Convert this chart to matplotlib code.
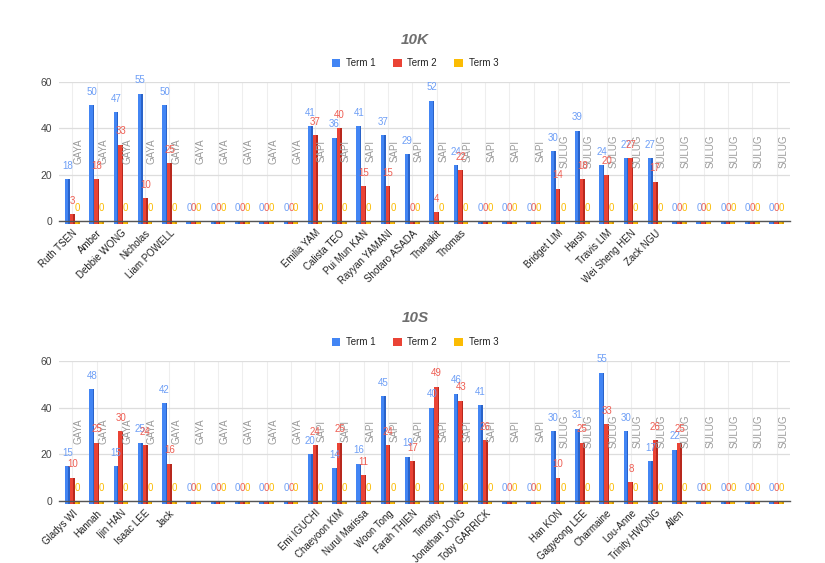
import matplotlib.pyplot as plt
import numpy as np

plt.rcParams['font.family'] = ['Liberation Sans', 'DejaVu Sans']

# ---- data: class 10K ----
k_names = ['Ruth TSEN', 'Amber', 'Debbie WONG', 'Nicholas', 'Liam POWELL', '', '', '', '', '',
           'Emilia YAM', 'Calista TEO', 'Pui Mun KAN', 'Rayyan YAMANI', 'Shotaro ASADA',
           'Thanakit', 'Thomas', '', '', '',
           'Bridget LIM', 'Harsh', 'Travis LIM', 'Wei Sheng HEN', 'Zack NGU', '', '', '', '', '']
k_house = ['GAYA'] * 10 + ['SAPI'] * 10 + ['SULUG'] * 10
k_term1 = [18, 50, 47, 55, 50, 0, 0, 0, 0, 0,
           41, 36, 41, 37, 29, 52, 24, 0, 0, 0,
           30, 39, 24, 27, 27, 0, 0, 0, 0, 0]
k_term2 = [3, 18, 33, 10, 25, 0, 0, 0, 0, 0,
           37, 40, 15, 15, 0, 4, 22, 0, 0, 0,
           14, 18, 20, 27, 17, 0, 0, 0, 0, 0]
k_term3 = [0] * 30

# ---- data: class 10S ----
s_names = ['Gladys WI', 'Hannah', 'Ijin HAN', 'Isaac LEE', 'Jack', '', '', '', '', '',
           'Emi IGUCHI', 'Chaeyoon KIM', 'Nurul Marissa', 'Woon Tong', 'Farah THIEN',
           'Timothy', 'Jonathan JONG', 'Toby GARRICK', '', '',
           'Han KON', 'Gagyeong LEE', 'Charmaine', 'Lou-Anne', 'Trinity HWONG', 'Allen',
           '', '', '', '']
s_house = ['GAYA'] * 10 + ['SAPI'] * 10 + ['SULUG'] * 10
s_term1 = [15, 48, 15, 25, 42, 0, 0, 0, 0, 0,
           20, 14, 16, 45, 19, 40, 46, 41, 0, 0,
           30, 31, 55, 30, 17, 22, 0, 0, 0, 0]
s_term2 = [10, 25, 30, 24, 16, 0, 0, 0, 0, 0,
           24, 25, 11, 24, 17, 49, 43, 26, 0, 0,
           10, 25, 33, 8, 26, 25, 0, 0, 0, 0]
s_term3 = [0] * 30

series_names = ['Term 1', 'Term 2', 'Term 3']
bar_colors = ['#4285f4', '#ea4335', '#fbbc04']
side_colors = ['#2a63c9', '#b8281d', '#d99a00']
label_colors = ['#6d9ef6', '#ee5d52', '#fbbc04']


def draw_class(fig, rect, title, title_y, legend_y, names, house, series):
    ax = fig.add_axes(rect)
    x = np.arange(len(names))
    w = 0.2
    depth = 1.2
    for i, vals in enumerate(series):
        vals = np.array(vals, dtype=float)
        pos = x + (i - 1) * w
        # front face plus a darker side strip for the 3D look
        ax.bar(pos - w * 0.15, vals + depth, width=w * 0.7, bottom=-depth,
               color=bar_colors[i], clip_on=False, zorder=3, label=series_names[i])
        ax.bar(pos + w * 0.35, vals + depth, width=w * 0.3, bottom=-depth,
               color=side_colors[i], clip_on=False, zorder=3)
        for px, v in zip(pos, vals):
            ax.annotate(f'{v:.0f}', (px, v), xytext=(0, 9.5), textcoords='offset points',
                        ha='center', va='center', fontsize=7, color=label_colors[i],
                        zorder=5, annotation_clip=False)
    for xi, h in zip(x, house):
        ax.text(xi + 0.27, 30, h, rotation=90, ha='center', va='center',
                fontsize=7, color='#9a9a9a', zorder=4)

    ax.set_xlim(-0.55, len(names) - 0.45)
    ax.set_ylim(0, 60)
    ax.set_yticks([0, 20, 40, 60])
    ax.set_xticks(x)
    ax.set_xticklabels(names, rotation=45, ha='right', rotation_mode='anchor',
                       fontsize=7, color='#222222')
    ax.tick_params(axis='x', length=0, pad=5)
    ax.tick_params(axis='y', length=0, pad=5, labelsize=7.5, labelcolor='#444444')
    ax.grid(axis='y', color='#dddddd', linewidth=0.9, zorder=0)
    ax.grid(axis='x', color='#eeeeee', linewidth=0.8, zorder=0)
    for s in ['top', 'right', 'left']:
        ax.spines[s].set_visible(False)
    ax.spines['bottom'].set_color('#555555')
    ax.spines['bottom'].set_linewidth(1.0)
    ax.spines['bottom'].set_zorder(4)

    fig.text(0.503, title_y, title, ha='center', va='center', fontsize=11,
             fontweight='bold', fontstyle='italic', color='#6e6e6e')
    handles, labels = ax.get_legend_handles_labels()
    fig.legend(handles, labels, loc='center', bbox_to_anchor=(0.503, legend_y),
               ncol=3, frameon=False, fontsize=7, handlelength=0.9, handleheight=0.9,
               columnspacing=1.75, handletextpad=0.6, labelcolor='#222222')
    return ax


fig = plt.figure(figsize=(8.25, 5.63), dpi=100)
draw_class(fig, [0.0715, 0.6075, 0.886, 0.2469], '10K', 0.929, 0.888,
           k_names, k_house, [k_term1, k_term2, k_term3])
draw_class(fig, [0.0715, 0.1101, 0.886, 0.2487], '10S', 0.435, 0.3925,
           s_names, s_house, [s_term1, s_term2, s_term3])

fig.savefig('out.png', dpi=100, facecolor='white')
